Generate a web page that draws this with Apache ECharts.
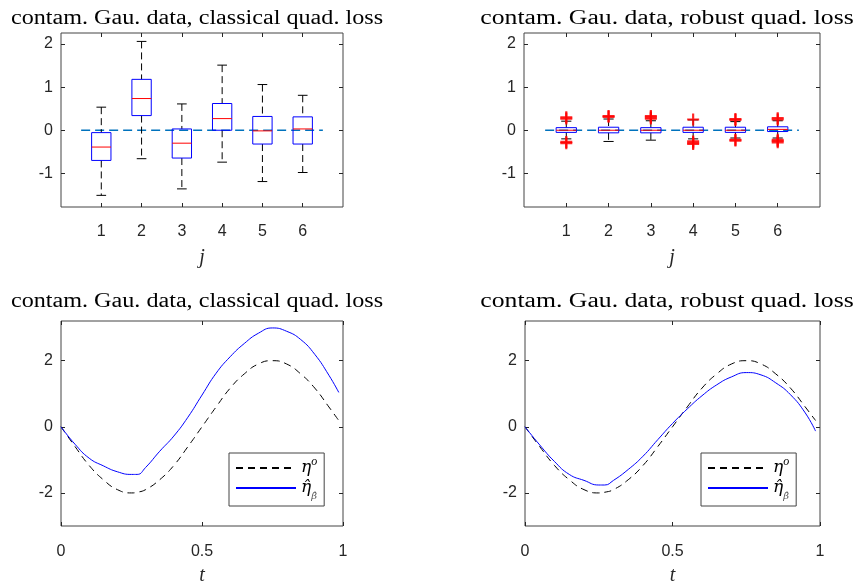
<!DOCTYPE html>
<html>
<head>
<meta charset="utf-8">
<script src="https://cdn.jsdelivr.net/npm/echarts@6/dist/echarts.min.js"></script>
<style>
html,body{margin:0;padding:0;background:#fff;}
#chart{width:865px;height:587px;}
</style>
</head>
<body>
<div id="chart"></div>
<script>
// ---------- data ----------
const titles = [
  'contam. Gau. data, classical quad. loss',
  'contam. Gau. data, robust quad. loss',
  'contam. Gau. data, classical quad. loss',
  'contam. Gau. data, robust quad. loss'
];
const boxCategories = [1, 2, 3, 4, 5, 6];
// [lower whisker, Q1, median, Q3, upper whisker]
const classicalBoxes = [
  [-1.51, -0.70, -0.39, -0.055, 0.535],
  [-0.66, 0.34, 0.735, 1.18, 2.06],
  [-1.36, -0.645, -0.30, 0.03, 0.61],
  [-0.74, 0.0, 0.27, 0.62, 1.51],
  [-1.19, -0.32, -0.015, 0.32, 1.06],
  [-0.98, -0.32, 0.03, 0.31, 0.81]
];
const robustBoxes = [
  [-0.20, -0.05, 0.0, 0.06, 0.21],
  [-0.26, -0.06, 0.0, 0.07, 0.26],
  [-0.23, -0.06, 0.0, 0.06, 0.22],
  [-0.20, -0.05, 0.0, 0.07, 0.24],
  [-0.18, -0.05, 0.0, 0.07, 0.20],
  [-0.18, -0.03, 0.02, 0.08, 0.22]
];
// robust outliers: [category, value]
const robustOutliers = [
  [1, 0.27], [1, 0.30], [1, -0.27], [1, -0.30],
  [2, 0.31], [2, 0.33],
  [3, 0.27], [3, 0.30], [3, 0.33],
  [4, 0.25], [4, -0.26], [4, -0.29], [4, -0.32],
  [5, 0.24], [5, 0.26], [5, -0.22], [5, -0.24],
  [6, 0.25], [6, 0.28], [6, -0.22], [6, -0.25], [6, -0.28]
];
const zeroLine = [[0.5, 0], [6.5, 0]];
const boxYTicks = [-1, 0, 1, 2];
const boxXTicks = [1, 2, 3, 4, 5, 6];

const tValues = [0, 0.05, 0.1, 0.15, 0.2, 0.25, 0.27, 0.3, 0.35, 0.4, 0.45, 0.5, 0.55, 0.6, 0.65, 0.7, 0.75, 0.8, 0.85, 0.9, 0.95, 0.985];
const etaTrue = [0, -0.6, -1.17, -1.6, -1.9, -2.0, -1.98, -1.9, -1.6, -1.17, -0.6, 0, 0.6, 1.17, 1.6, 1.9, 2.0, 1.9, 1.6, 1.17, 0.6, 0.19];
const etaHatClassical = [0, -0.53, -0.95, -1.18, -1.36, -1.44, -1.44, -1.23, -0.74, -0.28, 0.29, 0.96, 1.62, 2.12, 2.52, 2.83, 2.99, 2.89, 2.64, 2.19, 1.56, 1.04];
const etaHatRobust = [0, -0.55, -1.05, -1.44, -1.62, -1.76, -1.76, -1.62, -1.29, -0.89, -0.39, 0.1, 0.54, 0.94, 1.27, 1.51, 1.64, 1.57, 1.33, 0.97, 0.42, -0.13];
const lineYTicks = [-2, 0, 2];
const lineXTicks = [0, 0.5, 1];

// ---------- styling helpers ----------
const AX = '#262626';
const FRAME = '#444';
const tickFont = {fontFamily: 'Liberation Sans, Arial, sans-serif', fontSize: 16, color: AX};

function toXY(xs, ys){ return xs.map((x, i) => [x, ys[i]]); }
function boxItems(boxes){ return boxes.map((b, i) => [boxCategories[i]].concat(b)); }

function xAxisMain(g, min, max, ticks, name, nameGap, labelMargin){
  return {
    type: 'value', gridIndex: g, min: min, max: max, position: 'bottom',
    name: name, nameLocation: 'middle', nameGap: nameGap,
    nameTextStyle: {fontFamily: 'Liberation Serif, serif', fontStyle: 'italic', fontSize: 20, color: AX},
    axisLine: {show: false, onZero: false},
    axisTick: {show: true, inside: true, length: 4, customValues: ticks, lineStyle: {color: AX}},
    axisLabel: Object.assign({show: true, margin: labelMargin, customValues: ticks}, tickFont),
    splitLine: {show: false}
  };
}
function xAxisMirror(g, min, max, ticks){
  return {
    type: 'value', gridIndex: g, min: min, max: max, position: 'top',
    axisLine: {show: false, onZero: false},
    axisTick: {show: true, inside: true, length: 4, customValues: ticks, lineStyle: {color: AX}},
    axisLabel: {show: false}, splitLine: {show: false}
  };
}
function yAxisMain(g, min, max, ticks){
  return {
    type: 'value', gridIndex: g, min: min, max: max, position: 'left',
    axisLine: {show: false, onZero: false},
    axisTick: {show: true, inside: true, length: 4, customValues: ticks, lineStyle: {color: AX}},
    axisLabel: Object.assign({show: true, margin: 8, customValues: ticks}, tickFont),
    splitLine: {show: false}
  };
}
function yAxisMirror(g, min, max, ticks){
  return {
    type: 'value', gridIndex: g, min: min, max: max, position: 'right',
    axisLine: {show: false, onZero: false},
    axisTick: {show: true, inside: true, length: 4, customValues: ticks, lineStyle: {color: AX}},
    axisLabel: {show: false}, splitLine: {show: false}
  };
}

function renderBox(params, api){
  const j = api.value(0);
  const lo = api.value(1), q1 = api.value(2), med = api.value(3), q3 = api.value(4), hi = api.value(5);
  const bw = api.size([0.48, 0])[0];
  const cw = api.size([0.24, 0])[0];
  const px = api.coord([j, med])[0];
  const y = v => api.coord([j, v])[1];
  const dash = {stroke: '#000', lineWidth: 1, lineDash: [7, 4]};
  const solid = {stroke: '#000', lineWidth: 1};
  return {
    type: 'group',
    children: [
      {type: 'line', shape: {x1: px, y1: y(hi), x2: px, y2: y(q3)}, style: dash},
      {type: 'line', shape: {x1: px, y1: y(q1), x2: px, y2: y(lo)}, style: dash},
      {type: 'line', shape: {x1: px - cw / 2, y1: y(hi), x2: px + cw / 2, y2: y(hi)}, style: solid},
      {type: 'line', shape: {x1: px - cw / 2, y1: y(lo), x2: px + cw / 2, y2: y(lo)}, style: solid},
      {type: 'rect', shape: {x: px - bw / 2, y: y(q3), width: bw, height: y(q1) - y(q3)}, style: {fill: 'none', stroke: '#0000ff', lineWidth: 1}},
      {type: 'line', shape: {x1: px - bw / 2, y1: y(med), x2: px + bw / 2, y2: y(med)}, style: {stroke: '#ff0000', lineWidth: 1}}
    ]
  };
}

const boxYMin = -1.78, boxYMax = 2.255;
const lineYMin = -3, lineYMax = 3.2;

const gridBase = {show: true, borderColor: FRAME, borderWidth: 1, backgroundColor: 'transparent', containLabel: false};

const titlePos = [
  {x: 197, y: 19, s: 1.207},
  {x: 667, y: 19, s: 1.285},
  {x: 197, y: 302, s: 1.207},
  {x: 667, y: 302, s: 1.285}
];

const option = {
  animation: false,
  backgroundColor: '#fff',
  grid: [
    Object.assign({left: 61, top: 33, width: 282, height: 174}, gridBase),
    Object.assign({left: 524, top: 33, width: 296, height: 174}, gridBase),
    Object.assign({left: 61, top: 321, width: 282, height: 208}, gridBase),
    Object.assign({left: 525, top: 321, width: 295, height: 208}, gridBase)
  ],
  xAxis: [
    xAxisMain(0, 0, 7, boxXTicks, 'j', 41, 17),
    xAxisMain(1, 0, 7, boxXTicks, 'j', 41, 17),
    xAxisMain(2, 0, 1, lineXTicks, 't', 40, 18),
    xAxisMain(3, 0, 1, lineXTicks, 't', 40, 18),
    xAxisMirror(0, 0, 7, boxXTicks),
    xAxisMirror(1, 0, 7, boxXTicks),
    xAxisMirror(2, 0, 1, lineXTicks),
    xAxisMirror(3, 0, 1, lineXTicks)
  ],
  yAxis: [
    yAxisMain(0, boxYMin, boxYMax, boxYTicks),
    yAxisMain(1, boxYMin, boxYMax, boxYTicks),
    yAxisMain(2, lineYMin, lineYMax, lineYTicks),
    yAxisMain(3, lineYMin, lineYMax, lineYTicks),
    yAxisMirror(0, boxYMin, boxYMax, boxYTicks),
    yAxisMirror(1, boxYMin, boxYMax, boxYTicks),
    yAxisMirror(2, lineYMin, lineYMax, lineYTicks),
    yAxisMirror(3, lineYMin, lineYMax, lineYTicks)
  ],
  legend: [0, 1].map(k => ({
    left: k === 0 ? 229 : 701,
    top: 453,
    orient: 'vertical',
    data: ['eta', 'etahat'],
    selectedMode: false,
    itemWidth: 60,
    itemHeight: 10,
    itemGap: 3,
    padding: [3, 7, 5, 6],
    backgroundColor: '#fff',
    borderColor: FRAME,
    borderWidth: 1,
    borderRadius: 0,
    itemStyle: {color: 'rgba(0,0,0,0)', borderColor: 'rgba(0,0,0,0)', borderWidth: 0, opacity: 0},
    formatter: function(name){
      return name === 'eta' ? '{a|η}{b|o}' : '{a|η̂}{c|β̂}';
    },
    textStyle: {
      color: '#000',
      rich: {
        a: {fontFamily: 'DejaVu Serif, serif', fontStyle: 'italic', fontSize: 17, lineHeight: 24, verticalAlign: 'middle'},
        b: {fontFamily: 'Liberation Serif, serif', fontStyle: 'italic', fontSize: 12, lineHeight: 24, verticalAlign: 'top'},
        c: {fontFamily: 'DejaVu Serif, serif', fontStyle: 'italic', fontSize: 10, lineHeight: 26, verticalAlign: 'bottom', color: '#555'}
      }
    }
  })),
  series: [
    {type: 'line', xAxisIndex: 0, yAxisIndex: 0, data: zeroLine, showSymbol: false, silent: true,
      lineStyle: {color: '#0072BD', width: 1.3, type: [9, 5]}, z: 1},
    {type: 'custom', xAxisIndex: 0, yAxisIndex: 0, data: boxItems(classicalBoxes), renderItem: renderBox,
      encode: {x: 0, y: [1, 2, 3, 4, 5]}, z: 2},
    {type: 'line', xAxisIndex: 1, yAxisIndex: 1, data: zeroLine, showSymbol: false, silent: true,
      lineStyle: {color: '#0072BD', width: 1.3, type: [9, 5]}, z: 1},
    {type: 'custom', xAxisIndex: 1, yAxisIndex: 1, data: boxItems(robustBoxes), renderItem: renderBox,
      encode: {x: 0, y: [1, 2, 3, 4, 5]}, z: 2},
    {type: 'scatter', xAxisIndex: 1, yAxisIndex: 1, data: robustOutliers,
      symbol: 'path://M4.1,0h1.8v4.1h4.1v1.8h-4.1v4.1h-1.8v-4.1h-4.1v-1.8h4.1z', symbolSize: 12,
      itemStyle: {color: '#ff0000', opacity: 0.85}, z: 3},
    {name: 'eta', type: 'line', xAxisIndex: 2, yAxisIndex: 2, data: toXY(tValues, etaTrue), showSymbol: false, symbol: 'none', smooth: true,
      lineStyle: {color: '#000', width: 1, type: [7, 5]}, itemStyle: {color: '#000'}},
    {name: 'etahat', type: 'line', xAxisIndex: 2, yAxisIndex: 2, data: toXY(tValues, etaHatClassical), showSymbol: false, symbol: 'none', smooth: true,
      lineStyle: {color: '#0000ff', width: 1}, itemStyle: {color: '#0000ff'}},
    {name: 'eta', type: 'line', xAxisIndex: 3, yAxisIndex: 3, data: toXY(tValues, etaTrue), showSymbol: false, symbol: 'none', smooth: true,
      lineStyle: {color: '#000', width: 1, type: [7, 5]}, itemStyle: {color: '#000'}},
    {name: 'etahat', type: 'line', xAxisIndex: 3, yAxisIndex: 3, data: toXY(tValues, etaHatRobust), showSymbol: false, symbol: 'none', smooth: true,
      lineStyle: {color: '#0000ff', width: 1}, itemStyle: {color: '#0000ff'}}
  ],
  graphic: titles.map((txt, i) => ({
    type: 'text',
    x: titlePos[i].x,
    y: titlePos[i].y,
    scaleX: titlePos[i].s,
    style: {text: txt, align: 'center', verticalAlign: 'middle',
      font: '20px "Liberation Serif", serif', fill: '#000'}
  }))
};

const chart = echarts.init(document.getElementById('chart'), null, {renderer: 'canvas'});
chart.setOption(option);
</script>
</body>
</html>
